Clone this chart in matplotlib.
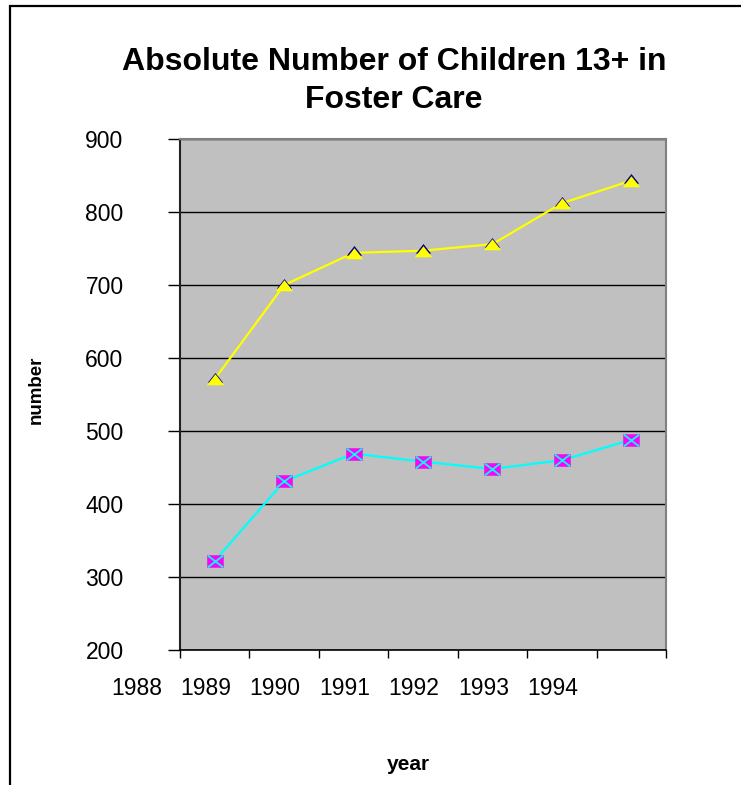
import numpy as np
import matplotlib
matplotlib.use("Agg")
import matplotlib.pyplot as plt
from matplotlib.path import Path
from matplotlib.patches import Rectangle
from matplotlib.transforms import blended_transform_factory, offset_copy

plt.rcParams['font.family'] = ['Liberation Sans', 'DejaVu Sans']

# Year labels along the category axis and the two series of counts
years = [1988, 1989, 1990, 1991, 1992, 1993, 1994]
counts_upper = [571, 700, 744, 747, 756, 812, 843]
counts_lower = [322, 431, 469, 458, 448, 460, 488]
y_ticks = [200, 300, 400, 500, 600, 700, 800, 900]

fig = plt.figure(figsize=(7.41, 7.85), dpi=100)
fig.patch.set_facecolor('white')

# Outer chart frame (runs off the right and bottom edges)
fig.patches.append(Rectangle((9.5 / 741, -0.05), 1.2, 1 - 5.5 / 785 + 0.05,
                             transform=fig.transFigure, fill=False,
                             edgecolor='black', linewidth=1.6))

ax = fig.add_axes([180 / 741, 135 / 785, 486 / 741, 511 / 785])
ax.set_facecolor('#C0C0C0')

x = np.arange(len(counts_upper))
ax.set_xlim(-0.5, len(x) - 0.5)
ax.set_ylim(min(y_ticks), max(y_ticks))

# Horizontal grid
ax.set_yticks(y_ticks)
ax.set_yticklabels([str(v) for v in y_ticks], fontsize=16.5)
ax.yaxis.grid(True, color='black', linewidth=1.0)
ax.set_axisbelow(True)
ax.tick_params(axis='y', direction='out', length=8.6, width=1.0,
               color='black', pad=32)

# Category boundaries as tick marks, labels set separately
ax.set_xticks(np.arange(-0.5, len(x), 1.0))
ax.set_xticklabels([])
ax.tick_params(axis='x', direction='out', length=6, width=1.0, color='black')

trans = blended_transform_factory(ax.transData, ax.transAxes)
for i, yr in enumerate(years):
    ax.text(i - 1 - 0.13, -0.0744, str(yr), transform=trans, ha='center',
            va='center', fontsize=16.5, clip_on=False)

for side in ('top', 'right'):
    ax.spines[side].set_color('#808080')
    ax.spines[side].set_linewidth(1.5)
ax.spines['left'].set_color('#202020')
ax.spines['left'].set_linewidth(1.5)
ax.spines['bottom'].set_color('black')
ax.spines['bottom'].set_linewidth(1.2)

# Upper series: yellow line with flat triangle markers, navy rim at the apex
tri = Path([(0, 0.72), (-1, -0.55), (1, -0.55), (0, 0.72)],
           [Path.MOVETO, Path.LINETO, Path.LINETO, Path.CLOSEPOLY])
ax.plot(x, counts_upper, color='#FFFF00', linewidth=1.6, zorder=3)
ax.plot(x, counts_upper, linestyle='none', marker=tri, markersize=11,
        markerfacecolor='#000080', markeredgecolor='#000080',
        markeredgewidth=0, zorder=4,
        transform=offset_copy(ax.transData, fig=fig, x=0, y=1.5, units='dots'))
ax.plot(x, counts_upper, linestyle='none', marker=tri, markersize=12.5,
        markerfacecolor='#FFFF00', markeredgecolor='#FFFF00',
        markeredgewidth=0, zorder=5,
        transform=offset_copy(ax.transData, fig=fig, x=0, y=-1.0, units='dots'))

# Lower series: cyan line, magenta box markers crossed in cyan
box = Path([(-1.3, -1), (1.3, -1), (1.3, 1), (-1.3, 1), (-1.3, -1)],
           [Path.MOVETO, Path.LINETO, Path.LINETO, Path.LINETO, Path.CLOSEPOLY])
cross = Path([(-1.3, -1), (1.3, 1), (-1.3, 1), (1.3, -1)],
             [Path.MOVETO, Path.LINETO, Path.MOVETO, Path.LINETO])
ax.plot(x, counts_lower, color='#00FFFF', linewidth=1.6, zorder=3)
ax.plot(x, counts_lower, linestyle='none', marker=box, markersize=11,
        markerfacecolor='#FF00FF', markeredgecolor='#CC33CC',
        markeredgewidth=0.5, zorder=4)
ax.plot(x, counts_lower, linestyle='none', marker=cross, markersize=11,
        markerfacecolor='none', markeredgecolor='#00FFFF',
        markeredgewidth=1.3, zorder=5)

fig.text(394 / 741, 1 - 81 / 785, 'Absolute Number of Children 13+ in\nFoster Care',
         ha='center', va='center', fontsize=23, fontweight='bold',
         linespacing=1.35)
fig.text(36 / 741, 1 - 390 / 785, 'number', rotation=90, ha='center',
         va='center', fontsize=13.5, fontweight='bold')
fig.text(408 / 741, 1 - 764 / 785, 'year', ha='center', va='center',
         fontsize=15, fontweight='bold')

fig.savefig('out.png', dpi=100)
